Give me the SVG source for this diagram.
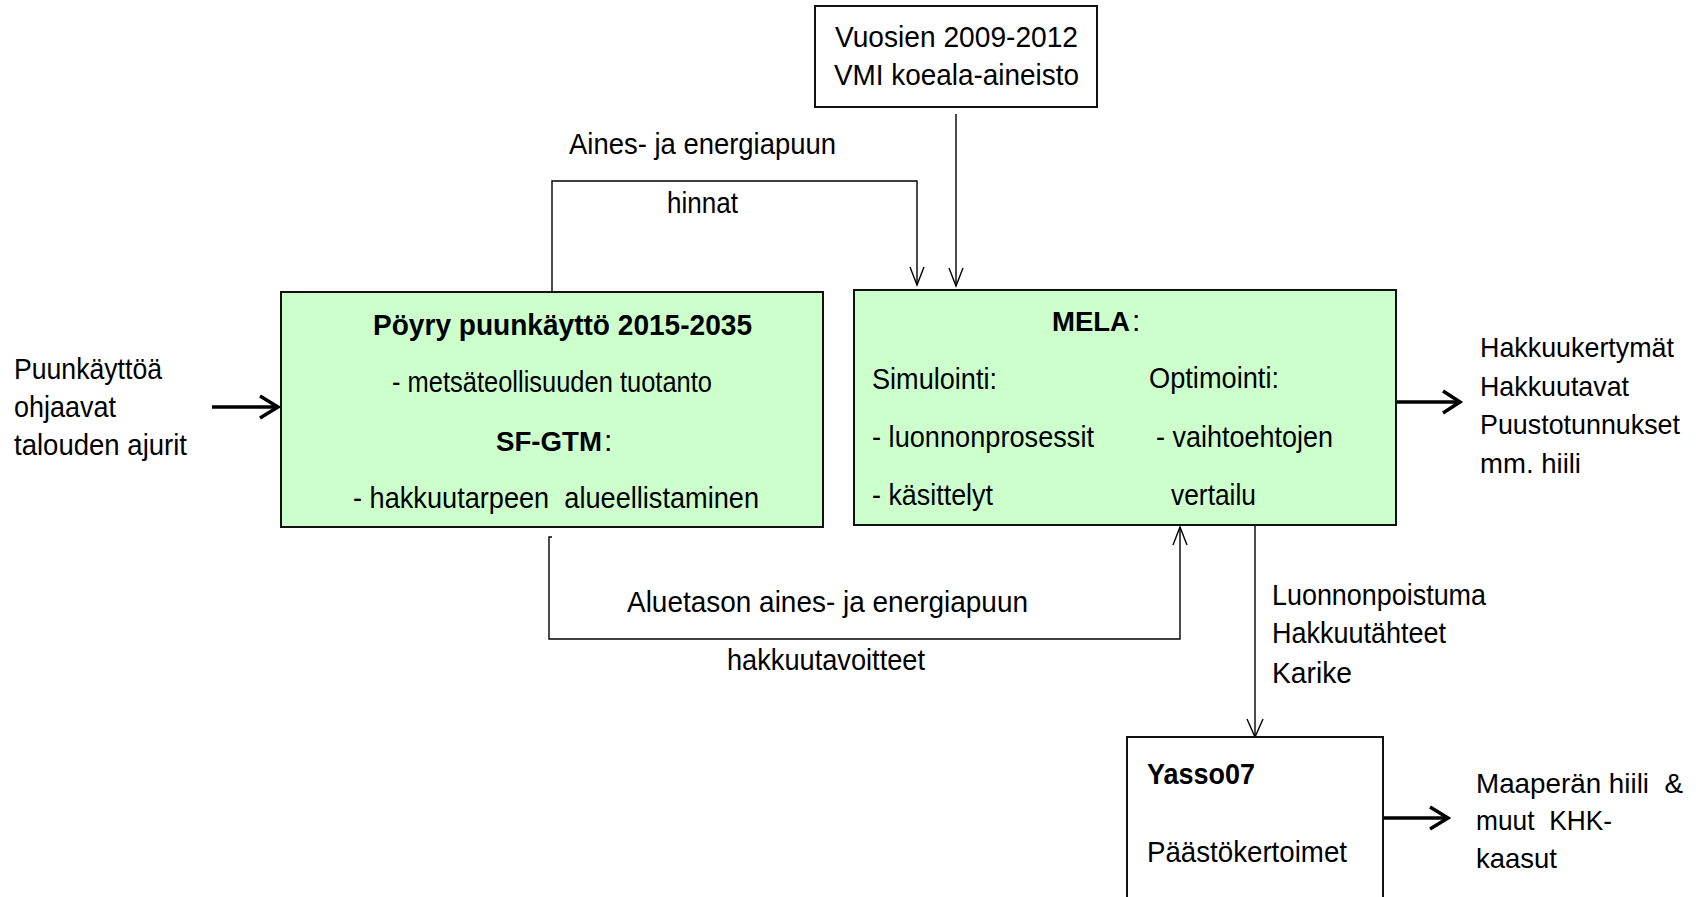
<svg xmlns="http://www.w3.org/2000/svg" width="1696" height="897" viewBox="0 0 1696 897">
<style>
.t{font-family:"Liberation Sans",Arial,sans-serif;font-size:30px;fill:#000;white-space:pre}
.s{font-size:28px}
.b{font-weight:bold}
.box{stroke:#111;stroke-width:2}
.g{fill:#ccffcc}
.w{fill:#fff}
.thin{fill:none;stroke:#000;stroke-width:1.4}
.thick{fill:none;stroke:#000;stroke-width:3.5}
</style>
<rect width="1696" height="897" fill="#fff"/>
<g id="connectors">
  <path class="thin" d="M552,292 V181 H917 V285"/>
  <path class="thin" d="M910,267 L917,285 L924,267"/>
  <path class="thin" d="M956,114 V286"/>
  <path class="thin" d="M949,268 L956,286 L963,268"/>
  <path class="thin" d="M552,537 H549 V639 H1180 V527"/>
  <path class="thin" d="M1173,545 L1180,527 L1187,545"/>
  <path class="thin" d="M1255,525 V737"/>
  <path class="thin" d="M1247,719 L1255,737 L1263,719"/>
  <path class="thick" d="M212,407 H277"/>
  <path class="thick" d="M260,396 L278,407 L260,418"/>
  <path class="thick" d="M1396,402 H1459"/>
  <path class="thick" d="M1443,391 L1460,402 L1443,413"/>
  <path class="thick" d="M1383,818 H1447"/>
  <path class="thick" d="M1430,807 L1448,818 L1430,829"/>
</g>
<g id="vmi">
  <rect class="box w" x="815" y="6" width="282" height="101"/>
  <text class="t" x="835" y="47" textLength="243" lengthAdjust="spacingAndGlyphs">Vuosien 2009-2012</text>
  <text class="t" x="834" y="85" textLength="245" lengthAdjust="spacingAndGlyphs">VMI koeala-aineisto</text>
</g>
<g id="poyry">
  <rect class="box g" x="281" y="292" width="542" height="235"/>
  <text class="t b" x="373" y="335" textLength="379" lengthAdjust="spacingAndGlyphs">Pöyry puunkäyttö 2015-2035</text>
  <text class="t" x="392" y="392" textLength="320" lengthAdjust="spacingAndGlyphs">- metsäteollisuuden tuotanto</text>
  <text class="t b s" x="496" y="451" textLength="106" lengthAdjust="spacingAndGlyphs">SF-GTM</text>
  <text class="t" x="604" y="451">:</text>
  <text class="t" x="353" y="508" textLength="406" lengthAdjust="spacingAndGlyphs">- hakkuutarpeen  alueellistaminen</text>
</g>
<g id="mela">
  <rect class="box g" x="854" y="290" width="542" height="235"/>
  <text class="t b s" x="1052" y="331" textLength="78" lengthAdjust="spacingAndGlyphs">MELA</text>
  <text class="t" x="1132" y="331">:</text>
  <text class="t" x="872" y="389" textLength="125" lengthAdjust="spacingAndGlyphs">Simulointi:</text>
  <text class="t" x="872" y="447" textLength="222" lengthAdjust="spacingAndGlyphs">- luonnonprosessit</text>
  <text class="t" x="872" y="505" textLength="121" lengthAdjust="spacingAndGlyphs">- käsittelyt</text>
  <text class="t" x="1149" y="388" textLength="130" lengthAdjust="spacingAndGlyphs">Optimointi:</text>
  <text class="t" x="1156" y="447" textLength="177" lengthAdjust="spacingAndGlyphs">- vaihtoehtojen</text>
  <text class="t" x="1171" y="505" textLength="85" lengthAdjust="spacingAndGlyphs">vertailu</text>
</g>
<g id="yasso">
  <rect class="box w" x="1127" y="737" width="256" height="180"/>
  <text class="t b" x="1147" y="784" textLength="108" lengthAdjust="spacingAndGlyphs">Yasso07</text>
  <text class="t" x="1147" y="862" textLength="200" lengthAdjust="spacingAndGlyphs">Päästökertoimet</text>
</g>
<g id="labels">
  <text class="t" x="569" y="154" textLength="267" lengthAdjust="spacingAndGlyphs">Aines- ja energiapuun</text>
  <text class="t" x="667" y="213" textLength="71" lengthAdjust="spacingAndGlyphs">hinnat</text>
  <text class="t" x="627" y="612" textLength="401" lengthAdjust="spacingAndGlyphs">Aluetason aines- ja energiapuun</text>
  <text class="t" x="727" y="670" textLength="198" lengthAdjust="spacingAndGlyphs">hakkuutavoitteet</text>
  <text class="t" x="14" y="379" textLength="148" lengthAdjust="spacingAndGlyphs">Puunkäyttöä</text>
  <text class="t" x="14" y="417" textLength="102" lengthAdjust="spacingAndGlyphs">ohjaavat</text>
  <text class="t" x="14" y="455" textLength="173" lengthAdjust="spacingAndGlyphs">talouden ajurit</text>
  <text class="t s" x="1480" y="357" textLength="194" lengthAdjust="spacingAndGlyphs">Hakkuukertymät</text>
  <text class="t s" x="1480" y="396" textLength="149" lengthAdjust="spacingAndGlyphs">Hakkuutavat</text>
  <text class="t s" x="1480" y="434" textLength="200" lengthAdjust="spacingAndGlyphs">Puustotunnukset</text>
  <text class="t s" x="1480" y="473" textLength="101" lengthAdjust="spacingAndGlyphs">mm. hiili</text>
  <text class="t" x="1272" y="605" textLength="214" lengthAdjust="spacingAndGlyphs">Luonnonpoistuma</text>
  <text class="t" x="1272" y="643" textLength="174" lengthAdjust="spacingAndGlyphs">Hakkuutähteet</text>
  <text class="t" x="1272" y="683" textLength="80" lengthAdjust="spacingAndGlyphs">Karike</text>
  <text class="t s" x="1476" y="793" textLength="207" lengthAdjust="spacingAndGlyphs">Maaperän hiili  &amp;</text>
  <text class="t s" x="1476" y="830" textLength="136" lengthAdjust="spacingAndGlyphs">muut  KHK-</text>
  <text class="t s" x="1476" y="868" textLength="81" lengthAdjust="spacingAndGlyphs">kaasut</text>
</g>
</svg>
